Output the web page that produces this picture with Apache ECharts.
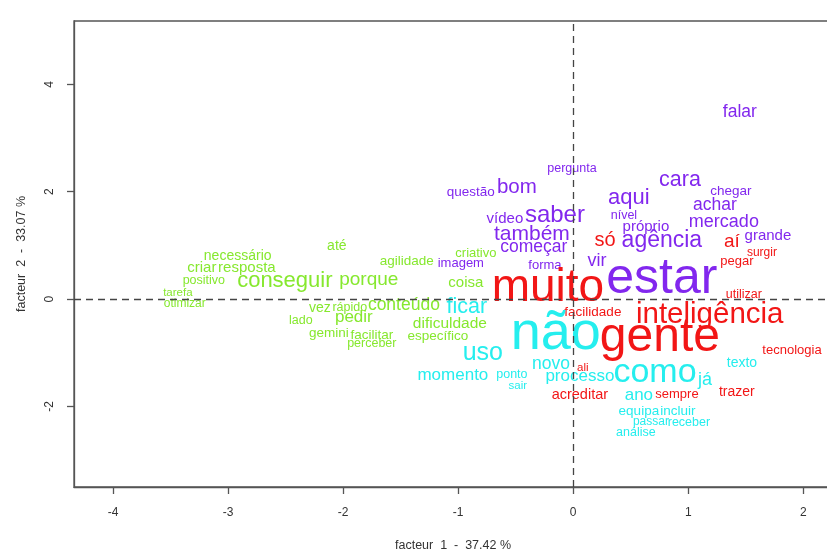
<!DOCTYPE html>
<html>
<head>
<meta charset="utf-8">
<script src="https://cdn.jsdelivr.net/npm/echarts@6/dist/echarts.min.js"></script>
<style>
html,body{margin:0;padding:0;background:#fff;}
#chart{width:827px;height:554px;}
</style>
</head>
<body>
<div id="chart"></div>
<script>
// ---- tick labels ----
var xTicks = [-4, -3, -2, -1, 0, 1, 2];
var yTicks = [-2, 0, 2, 4];
var xName = 'facteur  1  -  37.42 %';
var yName = 'facteur  2  -  33.07 %';

// ---- cluster 1 (green) ----
var greenWords = ['necessário','até','criar','resposta','positivo','conseguir','porque','tarefa','otimizar','vez','rápido','conteúdo','lado','pedir','gemini','facilitar','perceber','agilidade','criativo','coisa','dificuldade','específico'];
var greenX = [-2.917,-2.055,-3.229,-2.837,-3.211,-2.507,-1.777,-3.437,-3.377,-2.203,-1.942,-1.472,-2.368,-1.907,-2.125,-1.751,-1.751,-1.447,-0.846,-0.933,-1.072,-1.177];
var greenY = [0.781,0.967,0.558,0.558,0.316,0.298,0.335,0.093,-0.112,-0.186,-0.186,-0.149,-0.428,-0.372,-0.651,-0.688,-0.856,0.688,0.837,0.279,-0.484,-0.707];
var greenSize = [14,14,15,15,12.5,22,19,11.5,12,14,12.5,17.5,12.5,17,13.5,13.5,12.5,13.5,13,15,15.5,13.5];

// ---- cluster 2 (purple) ----
var purpleWords = ['falar','pergunta','questão','bom','chegar','cara','aqui','achar','vídeo','saber','nível','próprio','mercado','também','grande','agência','começar','imagem','forma','vir','estar'];
var purpleX = [1.449,-0.011,-0.890,-0.490,1.371,0.928,0.484,1.232,-0.594,-0.159,0.441,0.632,1.310,-0.359,1.693,0.771,-0.342,-0.977,-0.246,0.206,0.771];
var purpleY = [3.460,2.419,1.972,2.047,1.991,2.177,1.842,1.712,1.470,1.526,1.526,1.321,1.414,1.172,1.153,1.042,0.930,0.651,0.614,0.670,0.279];
var purpleSize = [17.5,12.5,13.5,20.5,13.5,21.5,22,17.5,15,24,12.5,15,18,21,15,23,17.5,13,13,18,50];

// ---- cluster 3 (red) ----
var redWords = ['só','aí','surgir','pegar','muito','utilizar','facilidade','inteligência','gente','tecnologia','ali','sempre','acreditar','trazer'];
var redX = [0.276,1.380,1.641,1.423,-0.220,1.484,0.171,1.187,0.754,1.902,0.084,0.902,0.058,1.423];
var redY = [1.060,1.042,0.837,0.688,0.130,0.056,-0.260,-0.335,-0.800,-0.986,-1.302,-1.805,-1.805,-1.749];
var redSize = [20,19,12,13,46,12.5,13.5,29.5,48,13,11.5,13,14.5,14];

// ---- cluster 4 (cyan) ----
var cyanWords = ['ficar','não','uso','texto','novo','momento','ponto','sair','processo','como','já','ano','equipa','incluir','passar','receber','análise'];
var cyanX = [-0.924,-0.151,-0.786,1.467,-0.194,-1.046,-0.533,-0.481,0.058,0.711,1.145,0.571,0.571,0.910,0.676,1.006,0.545];
var cyanY = [-0.186,-0.744,-1.042,-1.209,-1.247,-1.451,-1.433,-1.637,-1.470,-1.433,-1.544,-1.823,-2.121,-2.121,-2.307,-2.326,-2.512];
var cyanSize = [21.5,54,25,14,17.5,17,12.5,11.5,17,34,18,17,13.5,13.5,12,12.5,12.5];

var FONT = '"Liberation Sans", Arial, sans-serif';

function wordSeries(name, words, xs, ys, sizes, color, withLines) {
  var s = {
    name: name,
    type: 'custom',
    clip: false,
    data: xs.map(function (x, i) { return [x, ys[i]]; }),
    renderItem: function (params, api) {
      var i = params.dataIndex;
      var pt = api.coord([api.value(0), api.value(1)]);
      var fs = sizes[i];
      return {
        type: 'text',
        x: pt[0],
        y: pt[1] - 0.09 * fs,
        style: {
          text: words[i],
          fill: color,
          fontSize: fs,
          fontFamily: FONT,
          align: 'center',
          verticalAlign: 'middle'
        }
      };
    },
    z: 2
  };
  if (withLines) {
    s.markLine = {
      silent: true,
      symbol: 'none',
      z: 10,
      label: { show: false },
      lineStyle: { color: '#444', width: 1.3, type: [7, 5] },
      data: [{ xAxis: 0 }, { yAxis: 0 }],
      animation: false
    };
  }
  return s;
}

var chart = echarts.init(document.getElementById('chart'));
chart.setOption({
  animation: false,
  backgroundColor: '#ffffff',
  grid: {
    left: 74, top: 21, right: -5, bottom: 67,
    outerBoundsMode: 'none',
    containLabel: false,
    show: true, borderColor: '#555', borderWidth: 1.3, backgroundColor: 'transparent'
  },
  xAxis: {
    type: 'value', min: -4.34, max: 2.25,
    name: xName, nameLocation: 'middle', nameGap: 52,
    nameTextStyle: { color: '#333', fontSize: 12.5, fontFamily: FONT },
    splitLine: { show: false },
    axisLine: { show: true, onZero: false, lineStyle: { color: '#555', width: 1.3 } },
    axisTick: { show: true, length: 7, lineStyle: { color: '#555', width: 1.3 }, customValues: xTicks },
    axisLabel: { color: '#333', fontSize: 12, fontFamily: FONT, margin: 20, customValues: xTicks }
  },
  yAxis: {
    type: 'value', min: -3.5, max: 5.18,
    name: yName, nameLocation: 'middle', nameGap: 46, nameRotate: 90,
    nameTextStyle: { color: '#333', fontSize: 12.5, fontFamily: FONT },
    splitLine: { show: false },
    axisLine: { show: true, onZero: false, lineStyle: { color: '#555', width: 1.3 } },
    axisTick: { show: true, length: 7, lineStyle: { color: '#555', width: 1.3 }, customValues: yTicks },
    axisLabel: { color: '#333', fontSize: 12, fontFamily: FONT, margin: 18, rotate: 90, customValues: yTicks }
  },
  series: [
    wordSeries('c1', greenWords, greenX, greenY, greenSize, '#86e82e', true),
    wordSeries('c2', purpleWords, purpleX, purpleY, purpleSize, '#8227ee', false),
    wordSeries('c3', redWords, redX, redY, redSize, '#f21616', false),
    wordSeries('c4', cyanWords, cyanX, cyanY, cyanSize, '#25eeee', false)
  ]
});
</script>
</body>
</html>
